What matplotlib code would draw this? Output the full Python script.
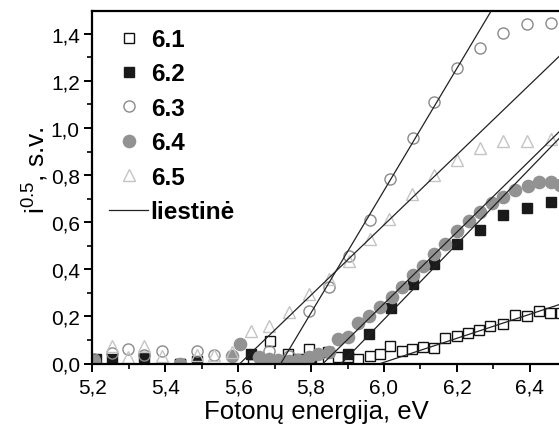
import matplotlib
matplotlib.use("Agg")
import matplotlib.pyplot as plt
import numpy as np
from matplotlib.lines import Line2D
from matplotlib.ticker import MultipleLocator, FuncFormatter

plt.rcParams['font.family'] = ['Liberation Sans', 'DejaVu Sans']
plt.rcParams['mathtext.fontset'] = 'custom'
plt.rcParams['mathtext.rm'] = 'Liberation Sans'
plt.rcParams['mathtext.default'] = 'regular'

# ---- data ----
x61 = [5.441, 5.64, 5.688, 5.738, 5.765, 5.793, 5.82, 5.847, 5.875, 5.902, 5.93, 5.962, 5.99, 6.017,
       6.049, 6.078, 6.107, 6.137, 6.168, 6.2, 6.231, 6.261, 6.291, 6.326, 6.36, 6.392,
       6.424, 6.456, 6.486]
y61 = [0.0, 0.0, 0.097, 0.04, 0.019, 0.062, 0.019, 0.048, 0.026, 0.026, 0.019, 0.033, 0.04, 0.076,
       0.053, 0.062, 0.069, 0.066, 0.108, 0.117, 0.13, 0.142, 0.161, 0.168, 0.206, 0.203,
       0.224, 0.215, 0.215]

x62 = [5.21, 5.253, 5.342, 5.441, 5.486, 5.635, 5.71, 5.80, 5.902, 5.96, 6.02, 6.08, 6.137,
       6.2, 6.262, 6.326, 6.392, 6.458]
y62 = [0.02, 0.019, 0.028, 0.0, 0.012, 0.04, 0.005, 0.005, 0.04, 0.125, 0.234, 0.338, 0.423,
       0.508, 0.568, 0.632, 0.661, 0.685]

x63 = [5.205, 5.253, 5.297, 5.342, 5.39, 5.486, 5.533, 5.684, 5.739, 5.793, 5.848, 5.903,
       5.962, 6.017, 6.079, 6.138, 6.2, 6.264, 6.326, 6.392, 6.458]
y63 = [0.02, 0.045, 0.062, 0.035, 0.054, 0.054, 0.036, 0.054, 0.03, 0.224, 0.324, 0.458,
       0.611, 0.784, 0.957, 1.112, 1.254, 1.34, 1.404, 1.443, 1.446]

x64 = [5.205, 5.441, 5.582, 5.605, 5.656, 5.684, 5.71, 5.74, 5.765, 5.793, 5.82, 5.848, 5.875,
       5.902, 5.93, 5.958, 5.99, 6.021, 6.049, 6.079, 6.108, 6.137, 6.168, 6.2, 6.232,
       6.264, 6.296, 6.326, 6.36, 6.394, 6.426, 6.458, 6.482]
y64 = [0.01, 0.0, 0.033, 0.083, 0.026, 0.019, 0.015, 0.01, 0.015, 0.026, 0.04, 0.05, 0.104,
       0.111, 0.17, 0.203, 0.239, 0.281, 0.324, 0.376, 0.415, 0.465, 0.508, 0.564, 0.605,
       0.642, 0.68, 0.706, 0.738, 0.753, 0.77, 0.77, 0.757]

x65 = [5.253, 5.297, 5.342, 5.39, 5.486, 5.533, 5.582, 5.634, 5.684, 5.739, 5.793, 5.848,
       5.903, 5.962, 6.013, 6.076, 6.137, 6.2, 6.262, 6.326, 6.392, 6.458]
y65 = [0.075, 0.027, 0.075, 0.033, 0.037, 0.036, 0.047, 0.14, 0.16, 0.217, 0.295, 0.36,
       0.437, 0.529, 0.614, 0.72, 0.80, 0.866, 0.915, 0.946, 0.946, 0.954]

# tangent lines: x-intercept and slope
tan_x0 = [5.99, 5.883, 5.717, 5.833, 5.605]
tan_slope = [0.51, 1.60, 2.595, 1.52, 1.49]

labels = ['6.1', '6.2', '6.3', '6.4', '6.5', 'liestinė']
xticks = [5.2, 5.4, 5.6, 5.8, 6.0, 6.2, 6.4]
yticks = [0.0, 0.2, 0.4, 0.6, 0.8, 1.0, 1.2, 1.4]

# ---- figure ----
fig = plt.figure(figsize=(5.59, 4.27), dpi=100)
ax = fig.add_axes([92.3 / 559, 1 - 364.5 / 427, 1 - 92.3 / 559, 352.5 / 427])
ax.set_xlim(5.2, 6.48)
ax.set_ylim(0.0, 1.497)

x_end = 6.6
for x0, k in zip(tan_x0, tan_slope):
    ax.plot([x0, x_end], [0, k * (x_end - x0)], color='#222222', lw=0.9, zorder=3)

styles = [
    dict(marker='s', ms=6.5, mfc='white', mec='#111111', mew=1.0),
    dict(marker='s', ms=6.5, mfc='#1a1a1a', mec='#1a1a1a', mew=1.0),
    dict(marker='o', ms=8, mfc='none', mec='#8a8a8a', mew=1.0),
    dict(marker='o', ms=8.8, mfc='#929292', mec='#929292', mew=1.0),
    dict(marker='^', ms=9, mfc='none', mec='#c4c4c4', mew=1.0),
]
series = [(x61, y61), (x62, y62), (x63, y63), (x64, y64), (x65, y65)]
for (xs, ys), st in zip(series, styles):
    ax.plot(xs, ys, ls='none', zorder=2, clip_on=True, **st)

for side in ['top', 'left', 'bottom']:
    ax.spines[side].set_linewidth(1.6)
ax.spines['right'].set_visible(False)

ax.set_xticks(xticks)
ax.set_yticks(yticks)
ax.xaxis.set_minor_locator(MultipleLocator(0.1))
ax.yaxis.set_minor_locator(MultipleLocator(0.1))
fmt = FuncFormatter(lambda v, p: f"{v:.1f}".replace('.', ','))
ax.xaxis.set_major_formatter(fmt)
ax.yaxis.set_major_formatter(fmt)
ax.tick_params(which='major', direction='out', length=6, width=1.4, labelsize=15)
ax.tick_params(axis='x', which='major', pad=4)
ax.tick_params(axis='y', which='major', pad=3)
ax.tick_params(which='minor', direction='out', length=3.5, width=1.2)
ax.tick_params(top=False, right=False)

ax.set_xlabel('Fotonų energija, eV', fontsize=18.5)
ax.xaxis.set_label_coords(0.481, -0.1007)
ax.set_ylabel('i$^{0.5}$, s.v.', fontsize=19)
ax.yaxis.set_label_coords(-0.088, 0.55)

handles = [Line2D([], [], ls='none', **st) for st in styles]
handles.append(Line2D([], [], color='#222222', lw=0.9))
leg = ax.legend(handles, labels, loc='upper left', frameon=False,
                prop=dict(weight='bold', size=17.5), handlelength=1.6,
                handletextpad=0.1, labelspacing=0.47, borderaxespad=0.45,
                borderpad=0.25)

fig.savefig('out.png', dpi=100)
